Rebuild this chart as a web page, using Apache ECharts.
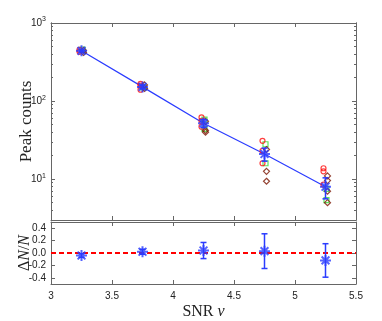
<!DOCTYPE html>
<html><head><meta charset="utf-8">
<script src="https://cdn.jsdelivr.net/npm/echarts@6/dist/echarts.min.js"></script>
<style>html,body{margin:0;padding:0;background:#fff}#c{width:382px;height:321px}</style>
</head><body><div id="c"></div>
<script>
// ---- data ----
const snr = [3.25, 3.75, 4.25, 4.75, 5.25];
const peakMean = [440, 152, 52, 21, 8.0];
const peakErr = [12, 8, 6, 4, 2.4];
const redCircles = [[452, 428], [166, 140, 158], [62, 56, 47], [31, 23, 16], [13.8, 12.6, 8.5]];
const diamonds = [[420, 446], [161, 145], [55, 42, 40], [24, 12.6, 9.4], [11, 9.6, 7, 5]];
const greenSquares = [[458], [150], [58, 44], [28, 16], [7.5, 5.4]];
const ratio = [-0.04, 0.02, 0.04, 0.03, -0.12];
const ratioErr = [0.03, 0.04, 0.13, 0.28, 0.27];
const xTicks = [3, 3.5, 4, 4.5, 5, 5.5];
const yMajor = [10, 100, 1000];
const yMinor = [3,4,5,6,7,8,9,20,30,40,50,60,70,80,90,200,300,400,500,600,700,800,900];
const rTicks = [-0.4, -0.2, 0, 0.2, 0.4];

const flat = (arr) => { const out = []; arr.forEach((vals, i) => vals.forEach(v => out.push([snr[i], v]))); return out; };
const pairs = (ys) => snr.map((x, i) => [x, ys[i]]);
const errData = (ys, es) => snr.map((x, i) => [x, ys[i] - es[i], ys[i] + es[i]]);

const BLUE = '#2b3cff', AX = '#666', TXT = '#222';
const star = 'path://M0,-10L0,10M-10,0L10,0M-7.07,-7.07L7.07,7.07M-7.07,7.07L7.07,-7.07';
const sans = 'Liberation Sans', serif = 'Liberation Serif';

function errRender() {
  return function (params, api) {
    const x = api.value(0), lo = api.value(1), hi = api.value(2);
    const p1 = api.coord([x, lo]), p2 = api.coord([x, hi]);
    const w = 3;
    const st = { stroke: BLUE, lineWidth: 1.5 };
    return { type: 'group', children: [
      { type: 'line', shape: { x1: p1[0], y1: p1[1], x2: p2[0], y2: p2[1] }, style: st },
      { type: 'line', shape: { x1: p1[0] - w, y1: p1[1], x2: p1[0] + w, y2: p1[1] }, style: st },
      { type: 'line', shape: { x1: p2[0] - w, y1: p2[1], x2: p2[0] + w, y2: p2[1] }, style: st }
    ]};
  };
}

const xBase = (gi, pos, labels) => ({
  type: 'value', gridIndex: gi, position: pos, min: 3, max: 5.5, interval: 0.5,
  axisLine: { show: true, onZero: false, lineStyle: { color: AX, width: 1 } },
  axisTick: { show: true, inside: true, length: 4, lineStyle: { color: AX } },
  axisLabel: { show: labels, color: TXT, fontFamily: sans, fontSize: 10, margin: 7,
    formatter: v => String(v) },
  splitLine: { show: false }
});

const logAxis = (pos, major, showLabel) => ({
  type: 'log', gridIndex: 0, position: pos, min: 3, max: 1000, logBase: 10,
  axisLine: { show: true, lineStyle: { color: AX, width: 1 } },
  axisTick: { show: true, inside: true, length: major ? 4 : 2, lineStyle: { color: AX },
    customValues: major ? yMajor : yMinor },
  axisLabel: { show: showLabel, customValues: yMajor, color: TXT, fontFamily: sans, fontSize: 10, margin: 5,
    formatter: v => '10{s|' + Math.round(Math.log10(v)) + '}',
    rich: { s: { fontSize: 7, verticalAlign: 'top', padding: [0, 0, 7, 0], fontFamily: sans, color: TXT } } },
  splitLine: { show: false }
});

const option = {
  animation: false,
  backgroundColor: '#fff',
  grid: [
    { left: 51, right: 26, top: 23, height: 197 },
    { left: 51, right: 26, top: 222, height: 71 }
  ],
  xAxis: [
    xBase(0, 'bottom', false),
    xBase(0, 'top', false),
    Object.assign(xBase(1, 'bottom', true), { name: 'SNR {i|ν}', nameLocation: 'middle', nameGap: 20,
      nameTextStyle: { fontFamily: serif, fontSize: 16, color: TXT, rich: { i: { fontFamily: serif, fontStyle: 'italic', fontSize: 16, color: TXT } } } }),
    xBase(1, 'top', false)
  ],
  yAxis: [
    Object.assign(logAxis('left', true, true), { name: 'Peak counts', nameLocation: 'middle', nameGap: 16,
      nameMoveOverlap: false,
      nameTextStyle: { fontFamily: serif, fontSize: 17, color: TXT } }),
    logAxis('left', false, false),
    logAxis('right', true, false),
    logAxis('right', false, false),
    { type: 'value', gridIndex: 1, position: 'left', min: -0.5, max: 0.5,
      axisLine: { show: true, onZero: false, lineStyle: { color: AX } },
      axisTick: { show: true, inside: true, length: 4, customValues: rTicks, lineStyle: { color: AX } },
      axisLabel: { customValues: rTicks, color: TXT, fontFamily: sans, fontSize: 10, margin: 5, formatter: v => v.toFixed(1) },
      splitLine: { show: false },
      name: 'Δ{i|N}/{i|N}', nameLocation: 'middle', nameGap: 18, nameMoveOverlap: false,
      nameTextStyle: { fontFamily: serif, fontSize: 16, color: TXT, rich: { i: { fontFamily: serif, fontStyle: 'italic', fontSize: 16, color: TXT } } } },
    { type: 'value', gridIndex: 1, position: 'right', min: -0.5, max: 0.5,
      axisLine: { show: true, onZero: false, lineStyle: { color: AX } },
      axisTick: { show: true, inside: true, length: 4, customValues: rTicks, lineStyle: { color: AX } },
      axisLabel: { show: false }, splitLine: { show: false } }
  ],
  series: [
    { type: 'line', xAxisIndex: 0, yAxisIndex: 0, data: pairs(peakMean), showSymbol: false,
      lineStyle: { color: BLUE, width: 1.2 }, z: 2 },
    { type: 'scatter', xAxisIndex: 0, yAxisIndex: 0, data: flat(greenSquares), symbol: 'rect', symbolSize: 5,
      symbolOffset: [1, 0], itemStyle: { color: 'rgba(0,0,0,0)', borderColor: '#33dd33', borderWidth: 1.2 }, z: 3 },
    { type: 'scatter', xAxisIndex: 0, yAxisIndex: 0, data: flat(redCircles), symbol: 'circle', symbolSize: 5,
      symbolOffset: [-2, 0], itemStyle: { color: 'rgba(0,0,0,0)', borderColor: '#ff1010', borderWidth: 1.2 }, z: 4 },
    { type: 'scatter', xAxisIndex: 0, yAxisIndex: 0, data: flat(diamonds), symbol: 'diamond', symbolSize: 6,
      symbolOffset: [2, 0], itemStyle: { color: 'rgba(0,0,0,0)', borderColor: '#7a1500', borderWidth: 1.2 }, z: 4 },
    { type: 'custom', xAxisIndex: 0, yAxisIndex: 0, data: errData(peakMean, peakErr), renderItem: errRender(), z: 5 },
    { type: 'scatter', xAxisIndex: 0, yAxisIndex: 0, data: pairs(peakMean), symbol: star, symbolSize: 11,
      itemStyle: { color: BLUE, borderColor: BLUE, borderWidth: 2 }, z: 6 },
    { type: 'line', xAxisIndex: 2, yAxisIndex: 4, data: [], showSymbol: false,
      markLine: { silent: true, symbol: 'none', label: { show: false },
        lineStyle: { color: '#ff0000', type: [5, 3], width: 2 }, data: [{ yAxis: 0 }] } },
    { type: 'custom', xAxisIndex: 2, yAxisIndex: 4, data: errData(ratio, ratioErr), renderItem: errRender(), z: 5 },
    { type: 'scatter', xAxisIndex: 2, yAxisIndex: 4, data: pairs(ratio), symbol: star, symbolSize: 11,
      itemStyle: { color: BLUE, borderColor: BLUE, borderWidth: 2 }, z: 6 }
  ]
};
echarts.init(document.getElementById('c'), null, { renderer: 'canvas' }).setOption(option);
</script></body></html>
